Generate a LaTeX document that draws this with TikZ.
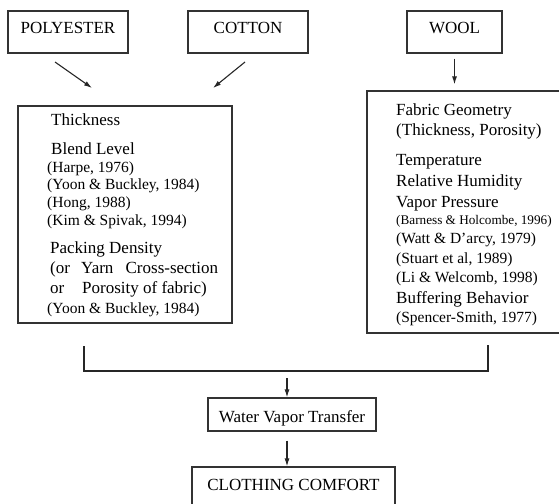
\documentclass[tikz,border=0pt]{standalone}
\usepackage{fontspec}
\setmainfont{Liberation Serif}
\usetikzlibrary{arrows.meta}

\tikzset{
  box/.style={draw=black!80, line width=1.2pt, rectangle, inner sep=0pt},
  toplbl/.style={box, minimum width=120pt, minimum height=42pt, text height=10pt, text depth=6pt},
  mn/.style={font=\fontsize{17}{19}\selectfont, inner sep=0pt, anchor=base west},
  rf/.style={font=\fontsize{15.5}{17}\selectfont, inner sep=0pt, anchor=base west},
  sm/.style={font=\fontsize{13.2}{15}\selectfont, inner sep=0pt, anchor=base west},
  conn/.style={draw=black!85, line width=1.1pt}
}

\begin{document}
\begin{tikzpicture}[x=1pt, y=-1pt, >={Latex[length=8pt,width=5pt]},
    font=\fontsize{17}{19}\selectfont]
    \useasboundingbox (0,0) rectangle (559,503);

    % Fasern oben
    \node[toplbl] (poly) at (68,32) {POLYESTER};
    \node[toplbl] (cotton) at (248,32) {COTTON};
    \node[toplbl, minimum width=95pt] (wool) at (454.5,32) {WOOL};

    % Kaesten mit Einflussgroessen
    \node[box, minimum width=214pt, minimum height=217pt] (lbox) at (125,214.5) {};
    \node[box, minimum width=213pt, minimum height=242pt] (rbox) at (473.5,212) {};

    \foreach \x/\y/\f/\t in {51/125/mn/Thickness, 51/154/mn/Blend Level,
        47/172/rf/{(Harpe, 1976)}, 47/189/rf/{(Yoon \& Buckley, 1984)},
        47/207/rf/{(Hong, 1988)}, 47/225/rf/{(Kim \& Spivak, 1994)},
        50/253/mn/Packing Density,
        50/273/mn/{\makebox[31pt][l]{(or}\makebox[137pt][s]{Yarn Cross-section}},
        50/293/mn/{\makebox[32pt][l]{or}Porosity of fabric)},
        47/313/rf/{(Yoon \& Buckley, 1984)}}
      \node[\f] at (\x,\y) {\t};

    \foreach \y/\f/\t in {115/mn/Fabric Geometry, 135/mn/{(Thickness, Porosity)},
        165/mn/Temperature, 186/mn/Relative Humidity, 207/mn/Vapor Pressure,
        224/sm/{(Barness \& Holcombe, 1996)}, 243/rf/{(Watt \& D'arcy, 1979)},
        263/rf/{(Stuart et al, 1989)}, 282/rf/{(Li \& Welcomb, 1998)},
        303/mn/Buffering Behavior, 322/rf/{(Spencer-Smith, 1977)}}
      \node[\f] at (396,\y) {\t};

    % Ergebnis
    \node[box, minimum width=168pt, minimum height=33pt, text height=16pt, text depth=0pt]
        (wvt) at (292,414.5) {Water Vapor Transfer};
    \node[box, minimum width=203pt, minimum height=46pt, text height=8pt, text depth=8pt]
        (comfort) at (293.5,490) {CLOTHING COMFORT};

    % Pfeile
    \coordinate (p1) at (55,62);
    \coordinate (p2) at (92,88);
    \coordinate (c1) at (245,62);
    \coordinate (c2) at (213,88);
    \draw[conn, ->] (p1) -- (p2);
    \draw[conn, ->] (c1) -- (c2);
    \draw[conn, ->, shorten <=5pt, shorten >=6pt] (wool.south) -- (wool.south |- rbox.north);

    \coordinate (bl) at (84,346);
    \coordinate (br) at (488,345);
    \coordinate (jn) at (287,378);
    \draw[conn] (bl) |- (br |- 0,371) -- (br);
    \draw[conn, ->] (jn) -- (jn |- wvt.north);
    \draw[conn, ->, shorten <=9pt] (jn |- wvt.south) -- (jn |- comfort.north);
\end{tikzpicture}
\end{document}
